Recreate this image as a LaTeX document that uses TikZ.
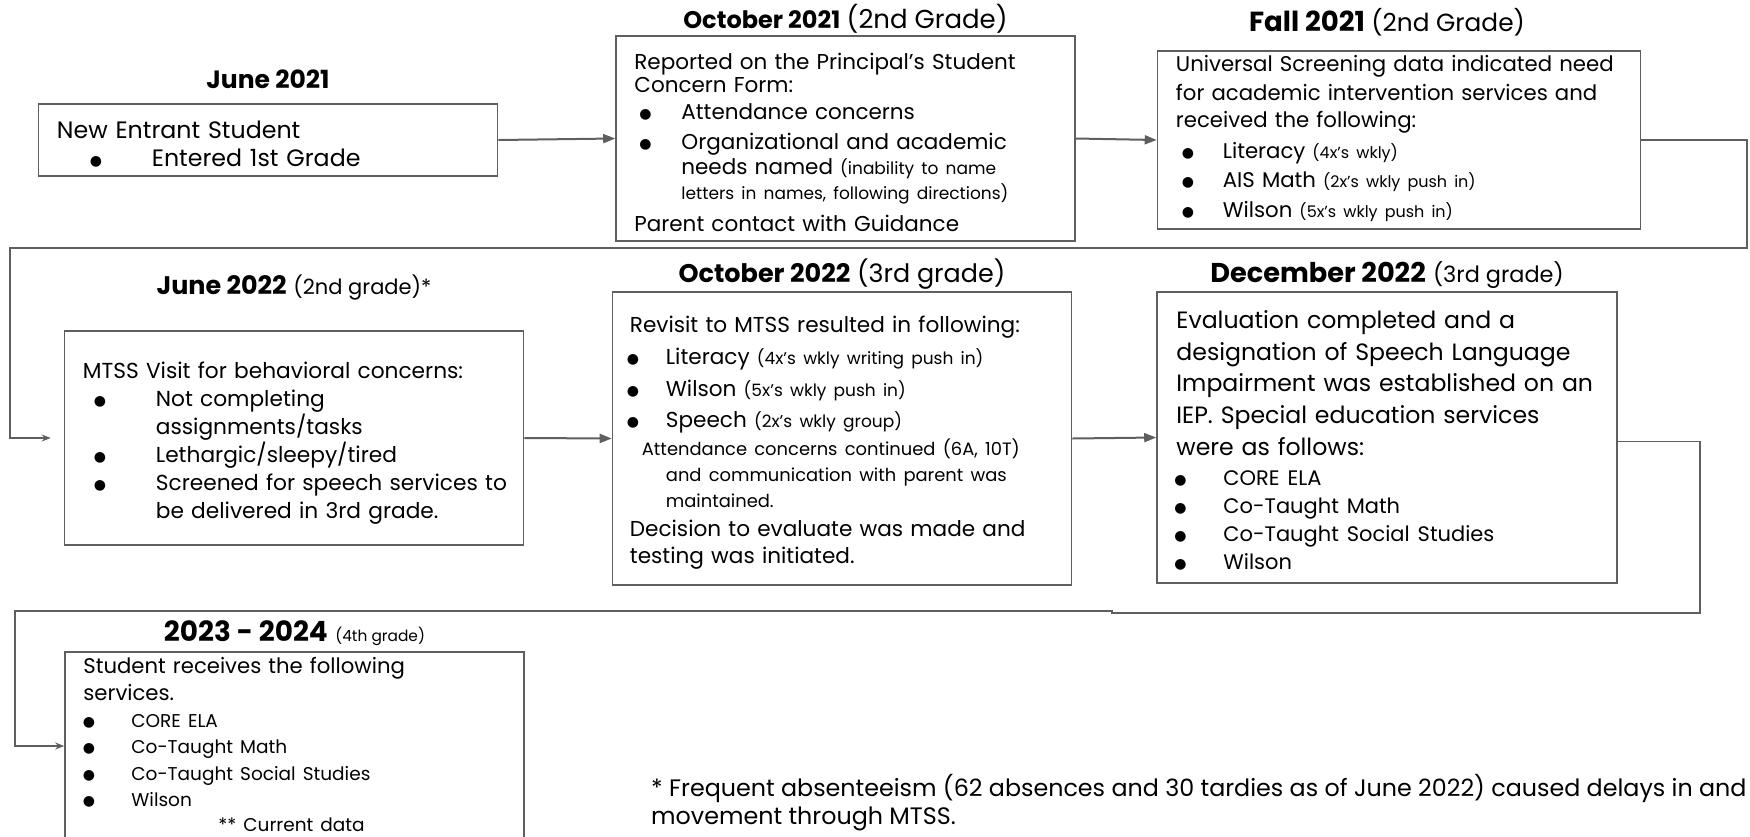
\documentclass[tikz,border=0pt]{standalone}
\usepackage{fontspec}
\setmainfont{Poppins}
\newfontfamily\bulletFont{DejaVu Sans}
\usetikzlibrary{positioning,arrows.meta}
\definecolor{lineGray}{RGB}{95,95,95}
\newcommand{\bulletDot}{\raisebox{1pt}{\bulletFont\fontsize{14}{14}\selectfont ●}}
\newcommand{\bulletItem}[3]{\makebox[#2][l]{\hspace*{#1}\makebox[0pt]{\bulletDot}}#3}
\newcommand{\noteSize}[2][17]{{\fontsize{#1}{20}\selectfont #2}}

\begin{document}
\begin{tikzpicture}[x=1pt, y=-1pt,
		eventBox/.style={draw=lineGray, line width=1.6pt, minimum width=459pt},
		eventText/.style={inner sep=0pt, text width=470pt, align=left, anchor=base west},
		eventHead/.style={inner sep=0pt, font=\fontsize{24}{30}\selectfont},
		nextArrow/.style={draw=lineGray, line width=2pt, -{Triangle[length=12pt, width=9pt]}},
		wrapArrow/.style={draw=lineGray, line width=1.4pt, -{Stealth[length=9pt, width=7pt]}}]
	\useasboundingbox (0,0) rectangle (1750,836);
	\clip (0,0) rectangle (1750,836);
	% first row
	\node[eventBox, minimum height=72pt] (jun21) at (268,140) {};
	\node[eventText, font=\fontsize{23.7}{28}\selectfont] (jun21Text) at ([shift={(19pt,-35.5pt)}]jun21.north west)
		{New Entrant Student\\
		\bulletItem{39pt}{95pt}{Entered 1st Grade}};
	\node[eventHead, above=15pt of jun21, anchor=base] (jun21Head) {\fontsize{25}{30}\selectfont\textbf{June 2021}};

	\node[eventBox, minimum height=205pt] (oct21) at (845.5,138.5) {};
	\node[eventText, font=\fontsize{21.5}{25}\selectfont] (oct21Text) at ([shift={(19pt,-34pt)}]oct21.north west)
		{Reported on the Principal’s Student\\[-1.5pt]
		Concern Form:\\[2pt]
		\bulletItem{11pt}{47pt}{Attendance concerns}\\[5pt]
		\bulletItem{11pt}{47pt}{Organizational and academic}\\
		\hspace*{47pt}needs named \noteSize{(inability to name}\\
		\hspace*{47pt}\noteSize{letters in names, following directions)}\\[7pt]
		Parent contact with Guidance};
	\node[eventHead, above=7pt of oct21, anchor=base] (oct21Head) {\textbf{October 2021} {\fontsize{26}{30}\selectfont(2nd Grade)}};

	\node[eventBox, minimum width=483pt, minimum height=178pt] (fall21) at (1399,140) {};
	\node[eventText, font=\fontsize{21.25}{29}\selectfont] (fall21Text) at ([shift={(19pt,-21pt)}]fall21.north west)
		{Universal Screening data indicated need\\
		for academic intervention services and\\[-2pt]
		received the following:\\[2pt]
		\bulletItem{12pt}{47pt}{Literacy \noteSize[16]{(4x’s wkly)}}\\
		\bulletItem{12pt}{47pt}{AIS Math \noteSize[16]{(2x’s wkly push in)}}\\[1pt]
		\bulletItem{12pt}{47pt}{Wilson \noteSize[16]{(5x’s wkly push in)}}};
	\node[eventHead, above=19pt of fall21, anchor=base, xshift=-12pt] (fall21Head) {\textbf{\fontsize{27.6}{30}\selectfont Fall 2021} {\fontsize{24.8}{30}\selectfont(2nd Grade)}};

	% second row
	\node[eventBox, minimum height=214pt] (jun22) at (294,438) {};
	\node[eventText, font=\fontsize{21.7}{28}\selectfont] (jun22Text) at ([shift={(19pt,-48pt)}]jun22.north west)
		{MTSS Visit for behavioral concerns:\\
		\bulletItem{17pt}{73pt}{Not completing}\\
		\hspace*{73pt}assignments/tasks\\
		\bulletItem{17pt}{73pt}{Lethargic/sleepy/tired}\\
		\bulletItem{17pt}{73pt}{Screened for speech services to}\\
		\hspace*{73pt}be delivered in 3rd grade.};
	\node[eventHead, above=36pt of jun22, anchor=base] (jun22Head) {\fontsize{25.4}{30}\selectfont\textbf{June 2022} \noteSize[21]{(2nd grade)*}};

	\node[eventBox, minimum height=293pt] (oct22) at (842,438.5) {};
	\node[eventText, font=\fontsize{21.6}{27}\selectfont] (oct22Text) at ([shift={(18pt,-41pt)}]oct22.north west)
		{Revisit to MTSS resulted in following:\\[5.5pt]
		\bulletItem{3pt}{36pt}{Literacy \noteSize{(4x’s wkly writing push in)}}\\[4.5pt]
		\bulletItem{3pt}{36pt}{Wilson \noteSize{(5x’s wkly push in)}}\\[4.5pt]
		\bulletItem{3pt}{36pt}{Speech \noteSize{(2x’s wkly group)}}\\[1pt]
		{\fontsize{17.9}{22}\selectfont\hspace*{12pt}Attendance concerns continued (6A, 10T)}\\[-1.3pt]
		{\fontsize{17.9}{22}\selectfont\hspace*{36pt}and communication with parent was}\\[-1.3pt]
		{\fontsize{17.9}{22}\selectfont\hspace*{36pt}maintained.}\\[2pt]
		Decision to evaluate was made and\\
		testing was initiated.};
	\node[eventHead, above=9pt of oct22, anchor=base] (oct22Head) {\fontsize{25.5}{30}\selectfont\textbf{October 2022} {\fontsize{25.4}{30}\selectfont(3rd grade)}};

	\node[eventBox, minimum width=460pt, minimum height=291pt] (dec22) at (1387,437.5) {};
	\node[eventText, font=\fontsize{23.6}{32}\selectfont] (dec22Text) at ([shift={(20pt,-37pt)}]dec22.north west)
		{Evaluation completed and a\\
		designation of Speech Language\\[-0.5pt]
		Impairment was established on an\\
		IEP. Special education services\\
		were as follows:\\[2pt]
		\fontsize{21}{28}\selectfont
		\bulletItem{4pt}{47pt}{CORE ELA}\\
		\bulletItem{4pt}{47pt}{Co-Taught Math}\\
		\bulletItem{4pt}{47pt}{Co-Taught Social Studies}\\[-4pt]
		\bulletItem{4pt}{47pt}{Wilson}};
	\node[eventHead, above=9pt of dec22, anchor=base] (dec22Head) {\fontsize{27.2}{32}\selectfont\textbf{December 2022} \noteSize[22.4]{(3rd grade)}};

	% third row
	\node[eventBox, minimum height=188pt] (y2324) at (294.5,746) {};
	\node[eventText, font=\fontsize{21.2}{27}\selectfont] (y2324Text) at ([shift={(19pt,-22.5pt)}]y2324.north west)
		{Student receives the following\\
		services.\\
		\fontsize{18.5}{26.5}\selectfont
		\bulletItem{5.5pt}{48pt}{CORE ELA}\\
		\bulletItem{5.5pt}{48pt}{Co-Taught Math}\\
		\bulletItem{5.5pt}{48pt}{Co-Taught Social Studies}\\
		\bulletItem{5.5pt}{48pt}{Wilson}\\[-2pt]
		\hspace*{135pt}** Current data};
	\node[eventHead, above=10pt of y2324, anchor=base] (y2324Head) {\fontsize{27.9}{30}\selectfont\textbf{2023 - 2024} \noteSize[15.4]{(4th grade)}};

	\node[inner sep=0pt, anchor=west, align=left, font=\fontsize{23.8}{28}\selectfont] (absentNote) at (651,803)
		{* Frequent absenteeism (62 absences and 30 tardies as of June 2022) caused delays in and\\
		movement through MTSS.};

	% connectors
	\draw[nextArrow] (jun21.east) -- (oct21.west);
	\draw[nextArrow] (oct21.east) -- (fall21.west);
	\draw[wrapArrow, shorten >=13pt] (fall21.east) -| (1747,248) -- (10,248) |- (jun22.west);
	\draw[nextArrow] (jun22.east) -- (oct22.west);
	\draw[nextArrow] (oct22.east) -- (dec22.west);
	\draw[wrapArrow] ([yshift=-4pt]dec22.east) -| (1700,613) -- (1112,613) -- (1112,611) -- (15,611) |- (y2324.west);
\end{tikzpicture}
\end{document}
